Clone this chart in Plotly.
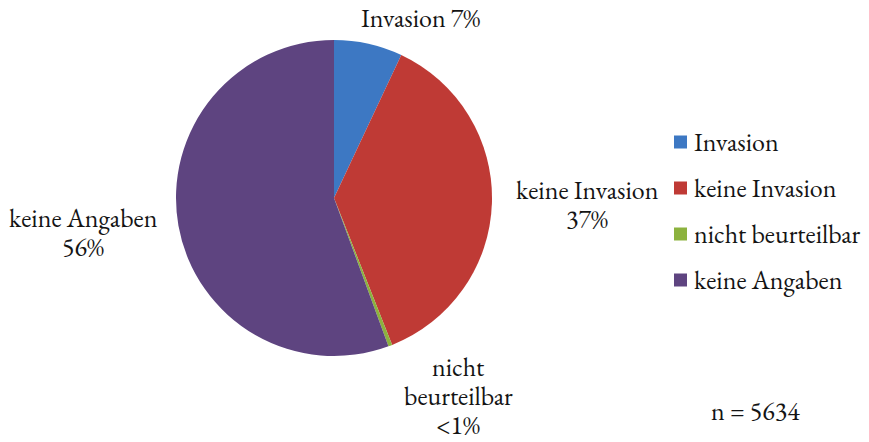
import plotly.graph_objects as go

# Befund-Kategorien und Anteile (%)
categories = ["Invasion", "keine Invasion", "nicht beurteilbar", "keine Angaben"]
shares = [7.0, 37.0, 0.4, 55.6]
# Beschriftung der Segmente, eine Liste von Zeilen je Segment
slice_labels = [["Invasion 7%"], ["keine Invasion", "37%"], ["nicht", "beurteilbar", "&lt;1%"], ["keine Angaben", "56%"]]
colors = ["#3d78c3", "#bf3a35", "#8cb23e", "#5e4480"]
n_total = 5634

W, H = 869, 442
FONT = "EB Garamond"
FS = 26
TXT = "#141414"

fig = go.Figure()

# Pie: clockwise from 12 o'clock
cx, cy, r = 334, 198, 158
fig.add_trace(go.Pie(
    labels=categories,
    values=shares,
    sort=False,
    direction="clockwise",
    rotation=0,
    textinfo="none",
    hoverinfo="label+percent",
    marker=dict(colors=colors, line=dict(width=0)),
    domain=dict(x=[(cx - r) / W, (cx + r) / W], y=[(H - cy - r) / H, (H - cy + r) / H]),
    showlegend=False,
))


def text_at(x, y, s, anchor="center"):
    fig.add_annotation(x=x / W, y=1 - y / H, xref="paper", yref="paper", text=s,
                       showarrow=False, font=dict(family=FONT, size=FS, color=TXT),
                       xanchor=anchor, yanchor="middle")


# Outside slice labels (center x, first-line y), line pitch ~29 px
label_pos = [(420, 18), (587, 190), (458, 367), (83, 218)]
pitch = 28.8
for lines, (x, y) in zip(slice_labels, label_pos):
    for k, s in enumerate(lines):
        text_at(x, y + k * pitch, s)

# Legend: swatch + label per category
leg_x, leg_y0, leg_dy, sw = 674, 142, 46, 13
for i, (cat, col) in enumerate(zip(categories, colors)):
    yc = leg_y0 + i * leg_dy
    fig.add_shape(type="rect", xref="paper", yref="paper",
                  x0=leg_x / W, x1=(leg_x + sw) / W,
                  y0=1 - (yc + sw / 2) / H, y1=1 - (yc - sw / 2) / H,
                  fillcolor=col, line=dict(width=0))
    text_at(leg_x + sw + 5, yc, cat, anchor="left")

text_at(755, 411, f"n = {n_total}")

fig.update_layout(
    width=W, height=H,
    margin=dict(l=0, r=0, t=0, b=0),
    paper_bgcolor="white", plot_bgcolor="white",
)

fig.write_html("out.html")
